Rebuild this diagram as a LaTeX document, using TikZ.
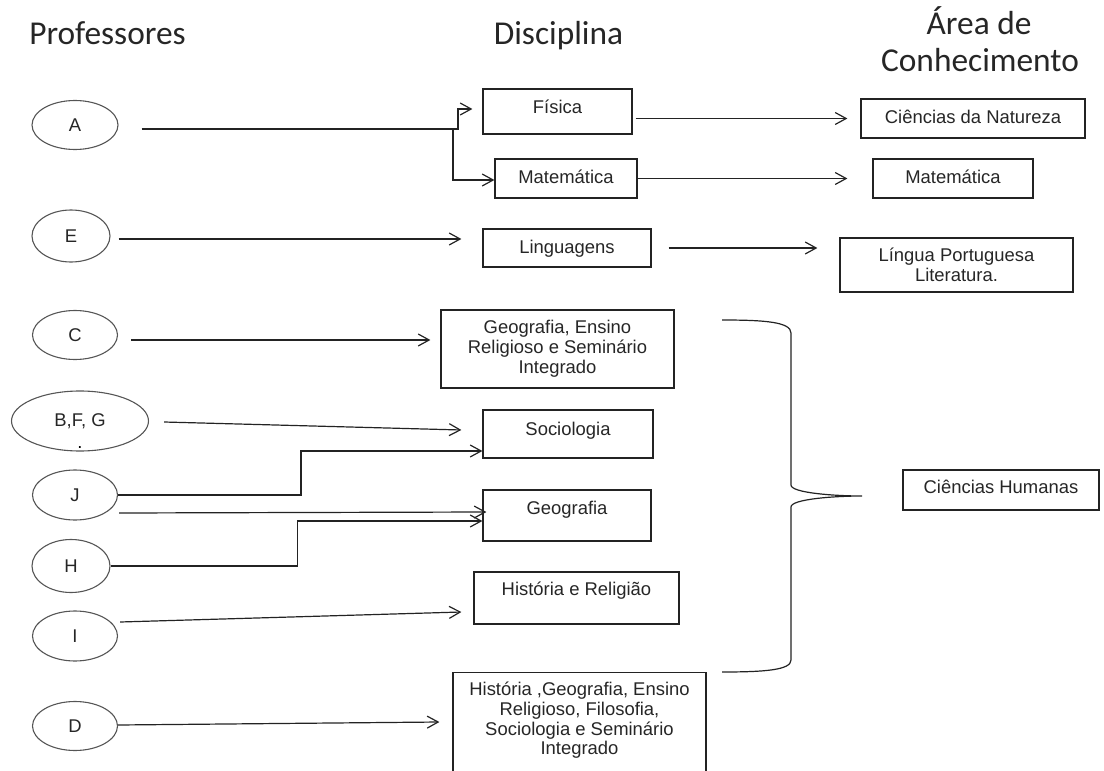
\documentclass[tikz,border=0pt]{standalone}
\usepackage{fontspec}
\setmainfont{Liberation Sans}
\newfontfamily\titulo{Carlito}
\usepackage{tikz}
\usetikzlibrary{calc}
\usetikzlibrary{arrows.meta,shapes.geometric}
\definecolor{Traco}{RGB}{35,35,35}
\definecolor{Borda}{RGB}{85,85,85}
\newcommand{\corpo}{\fontsize{18.5}{20}\selectfont}
\newcommand{\cabeca}{\titulo\fontsize{33.5}{37}\selectfont}

\begin{document}
\begin{tikzpicture}[x=1bp, y=-1bp,
	Seta/.style={draw=Traco, line width=1.2bp, arrows = -{Straight Barb[length=11bp,width=12bp]}},
	Linha/.style={draw=Traco, line width=1.2bp},
	Professor/.style={draw=Borda, ellipse, line width=1.1bp, inner sep=0pt, font=\corpo, text=black!85},
	Caixa/.style={draw=Traco, rectangle, line width=1.2bp, inner sep=0pt, align=center, font=\corpo, text=black!85},
	Uma/.style={text height=13.5bp, text depth=#1}, Uma/.default=4.5bp,
	Titulo/.style={anchor=base, font=\cabeca, text=black!85}]
			\useasboundingbox (0,0) rectangle (1104,771);
			\node[Titulo] (tProf) at (107.5,45) {Professores};
			\node[Titulo] (tDisc) at (558.5,45) {Disciplina};
			\node[Titulo] (tArea) at (979,35) {Área de};
			\node[Titulo] (tConh) at (980,72) {Conhecimento};
			\node[Professor, minimum width=86bp, minimum height=49bp] (pA) at (75,125) {A};
			\node[Professor, minimum width=78bp, minimum height=52bp] (pE) at (71,236) {E};
			\node[Professor, minimum width=85bp, minimum height=49bp] (pC) at (75,335) {C};
			\node[Professor, minimum width=137bp, minimum height=60bp] (pBFG) at (80,421) {B,F, G};
			\node[font=\corpo, inner sep=0pt, anchor=base] (pBFGp) at (80,448) {.};
			\node[Professor, minimum width=85bp, minimum height=50bp] (pJ) at (75,495) {J};
			\node[Professor, minimum width=78bp, minimum height=53bp] (pH) at (71,566) {H};
			\node[Professor, minimum width=85bp, minimum height=50bp] (pI) at (75,636) {I};
			\node[Professor, minimum width=85bp, minimum height=49bp] (pD) at (75,726) {D};
			\node[Caixa, Uma=10.5bp, minimum width=149bp, minimum height=45bp] (dFis) at (557.5,111.5) {Física};
			\node[Caixa, Uma, minimum width=142bp, minimum height=39bp] (dMat) at (566,178.5) {Matemática};
			\node[Caixa, Uma=2bp, minimum width=168bp, minimum height=38bp] (dLing) at (567,248) {Linguagens};
			\node[Caixa, minimum width=233bp, minimum height=78bp] (dGeoER) at (557.5,349) {Geografia, Ensino\\Religioso e Seminário\\Integrado};
			\node[Caixa, Uma=11.5bp, minimum width=170bp, minimum height=48bp] (dSoc) at (568,434) {Sociologia};
			\node[Caixa, Uma=16.5bp, minimum width=168bp, minimum height=51bp] (dGeo) at (567,515.5) {Geografia};
			\node[Caixa, Uma=19.5bp, minimum width=205bp, minimum height=52bp] (dHR) at (576.5,598) {História e Religião};
			\node[Caixa, anchor=north, inner ysep=9bp, text depth=30bp, minimum width=253bp] (dBig) at (579.5,672) {História ,Geografia, Ensino\\Religioso, Filosofia,\\Sociologia e Seminário\\Integrado};
			\node[Caixa, Uma, minimum width=224bp, minimum height=39bp] (aCN) at (973,118.5) {Ciências da Natureza};
			\node[Caixa, Uma, minimum width=160bp, minimum height=39bp] (aMat) at (953,178.5) {Matemática};
			\node[Caixa, minimum width=233bp, minimum height=54bp] (aLP) at (956.5,265) {Língua Portuguesa\\Literatura.};
			\node[Caixa, Uma=7.5bp, minimum width=196bp, minimum height=40bp] (aCH) at (1001,490) {Ciências Humanas};
			\coordinate (jA) at (453,129);
			\coordinate (sE) at ($(pE.east)+(0,3)$);
			\coordinate (sC) at ($(pC.east)+(0,5)$);
			\draw[Linha, shorten <=23bp] ($(pA.east)+(0,4)$) -- (jA);
			\draw[Seta, shorten >=10bp] (jA) -- ++(5,0) |- ($(dFis.west)+(0,-2.5)$);
			\draw[Seta] (jA) |- ($(dMat.west)+(0,1.5)$);
			\draw[Seta, shorten <=3bp, shorten >=13bp] (dFis.east |- aCN.west) -- (aCN.west);
			\draw[Seta, shorten >=25bp] (dMat.east) -- (aMat.west);
			\draw[Seta, shorten <=8bp, shorten >=21bp] (sE) -- (sE -| dLing.west);
			\draw[Seta, shorten <=17bp, shorten >=22bp] (dLing.east) -- (dLing.east -| aLP.west);
			\draw[Seta, shorten <=13bp, shorten >=10bp] (sC) -- (sC -| dGeoER.west);
			\draw[Seta] ($(pBFG.east)+(15,1)$) -- ($(dSoc.west)+(-21,-4)$);
			\draw[Seta] (pJ.east) -- ++(183,0) |- ($(dSoc.west)+(0,17)$);
			\draw[Seta] ($(pJ.east)+(1,18)$) -- ($(dGeo.west)+(4,-3.5)$);
			\draw[Seta] (pH.east) -- ++(187,0) |- ($(dGeo.west)+(0,5.5)$);
			\draw[Seta] ($(pI.east)+(2,-14)$) -- ($(dHR.west)+(-12,14)$);
			\draw[Seta] ($(pD.east)+(0,-1)$) -- ($(dBig.north west)+(-13,50)$);
			\draw[Linha] (722,320) .. controls (765,320) and (791,322) .. (791,333) -- (791,485) .. controls (791,493) and (835,496) .. (862,496) .. controls (835,496) and (791,499) .. (791,507) -- (791,660) .. controls (791,670) and (765,672) .. (722,672);
\end{tikzpicture}
\end{document}
